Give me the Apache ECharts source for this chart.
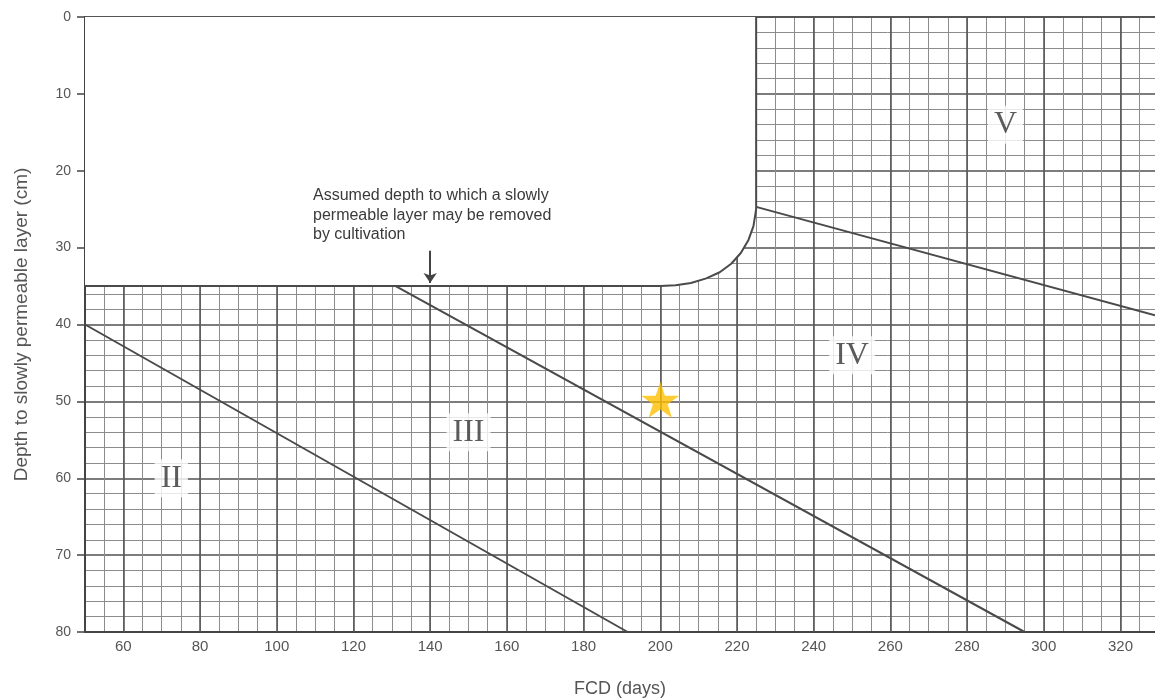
<!DOCTYPE html>
<html>
<head>
<meta charset="utf-8">
<script src="https://cdn.jsdelivr.net/npm/echarts@6/dist/echarts.min.js"></script>
<style>html,body{margin:0;padding:0;background:#fff;}#c{width:1155px;height:699px;}</style>
</head>
<body>
<div id="c"></div>
<script>
// ---- data ----
const xMajorLines = [60, 80, 100, 120, 140, 160, 180, 200, 220, 240, 260, 280, 300, 320];
const xTickLabels = [60, 80, 100, 120, 140, 160, 180, 200, 220, 240, 260, 280, 300, 320];
const yTickLabels = [0, 10, 20, 30, 40, 50, 60, 70, 80];
const cultivationLimit = [[50, 35], [200, 35], [204, 34.9], [208, 34.6], [212, 34.0], [215.5, 33.2], [218.5, 32.1], [221, 30.7], [223, 29.0], [224.3, 27.2], [225, 25], [225, 0]];
const boundaryII_III = [[50, 40], [191.5, 80]];
const boundaryIII_IV = [[131, 35], [295, 80]];
const boundaryIV_V = [[225, 24.7], [329, 38.8]];
const zoneNames = ['II', 'III', 'IV', 'V'];
const zoneFCD = [72.5, 150, 250, 290];
const zoneDepth = [60, 54, 44, 14];
const starPoint = [[200, 49.8]];
const arrowFrom = [140, 30.4];
const arrowTo = [140, 34.6];
const noteLines = ['Assumed depth to which a slowly', 'permeable layer may be removed', 'by cultivation'];

const chart = echarts.init(document.getElementById('c'));
const font = 'Liberation Sans, Arial, sans-serif';
const txt = '#555';
const boundStyle = { color: '#4a4a4a', width: 2 };

const starPath = 'path://M50,0 L61.8,35.1 L98.1,35.1 L68.8,56.8 L79.4,91 L50,70 L20.6,91 L31.2,56.8 L1.9,35.1 L38.2,35.1 Z';

chart.setOption({
  animation: false,
  backgroundColor: '#fff',
  grid: { left: 85, right: 0, top: 17, bottom: 67, containLabel: false, outerBoundsMode: 'none' },
  xAxis: [{
    type: 'value', min: 50, max: 329, interval: 5,
    name: 'FCD (days)', nameLocation: 'middle', nameGap: 48,
    nameTextStyle: { color: txt, fontSize: 18, fontFamily: font },
    axisLine: { show: true, onZero: false, lineStyle: { color: '#444', width: 2 } },
    axisTick: { show: false },
    axisLabel: {
      interval: 0, margin: 7, color: txt, fontSize: 15, fontFamily: font,
      formatter: v => xTickLabels.indexOf(v) >= 0 ? String(v) : ''
    },
    splitLine: { show: true, lineStyle: { color: '#8c8c8c', width: 1 } }
  }, {
    type: 'value', min: 50, max: 329, position: 'top',
    axisLine: { show: true, onZero: false, lineStyle: { color: '#555', width: 2 } },
    axisTick: { show: false }, axisLabel: { show: false }, splitLine: { show: false }
  }],
  yAxis: {
    type: 'value', min: 0, max: 80, interval: 10, inverse: true,
    name: 'Depth to slowly permeable layer (cm)', nameLocation: 'middle', nameGap: 54,
    nameTextStyle: { color: txt, fontSize: 19, fontFamily: font },
    axisLine: { show: true, onZero: false, lineStyle: { color: '#444', width: 2 } },
    axisTick: { show: true, length: 8, lineStyle: { color: '#444', width: 1.5 } },
    axisLabel: { color: txt, fontSize: 14, fontFamily: font, margin: 14,
      formatter: v => yTickLabels.indexOf(v) >= 0 ? String(v) : '' },
    splitLine: { show: true, lineStyle: { color: '#505050', width: 1.5 } },
    minorTick: { show: false, splitNumber: 5 },
    minorSplitLine: { show: true, lineStyle: { color: '#8c8c8c', width: 1 } }
  },
  graphic: [{
    type: 'text', left: 313, top: 186, z: 100,
    style: { text: noteLines.join('\n'), fill: '#3a3a3a', font: '16px ' + font, lineHeight: 19.5 }
  }],
  series: [
    {
      name: 'major', type: 'line', data: [], z: 1, silent: true,
      markLine: {
        z: 1, silent: true, symbol: 'none', animation: false,
        label: { show: false },
        lineStyle: { color: '#505050', width: 1.5, type: 'solid' },
        data: xMajorLines.map(v => ({ xAxis: v }))
      }
    },
    {
      name: 'ticks', type: 'line', data: [], z: 1, silent: true,
      markLine: {
        z: 1, silent: true, symbol: 'none', animation: false,
        label: { show: false },
        lineStyle: { color: '#505050', width: 1.5, type: 'solid' },
        data: xTickLabels.map(v => [{ coord: [v, 80] }, { coord: [v, 80.7] }])
      }
    },
    {
      name: 'cultivation', type: 'line', data: cultivationLimit, z: 3, silent: true,
      showSymbol: false, symbol: 'none',
      lineStyle: boundStyle,
      areaStyle: { color: '#fff', opacity: 1, origin: 'start' }
    },
    { name: 'b1', type: 'line', data: boundaryII_III, z: 4, symbol: 'none', lineStyle: boundStyle },
    { name: 'b2', type: 'line', data: boundaryIII_IV, z: 4, symbol: 'none', lineStyle: boundStyle },
    { name: 'b3', type: 'line', data: boundaryIV_V, z: 4, symbol: 'none', lineStyle: boundStyle },
    {
      name: 'arrow', type: 'line', data: [], z: 5,
      markLine: {
        z: 6, silent: true, symbol: ['none', 'arrow'], symbolSize: 10,
        label: { show: false },
        lineStyle: { color: '#444', width: 2, type: 'solid' },
        data: [[{ coord: arrowFrom }, { coord: arrowTo }]]
      }
    },
    {
      name: 'zones', type: 'scatter', z: 6, symbolSize: 0,
      data: zoneNames.map((n, i) => ({ name: n, value: [zoneFCD[i], zoneDepth[i]] })),
      label: {
        show: true, position: 'inside', formatter: p => p.name,
        fontFamily: 'Liberation Serif, DejaVu Serif, serif', fontSize: 32, color: '#333',
        backgroundColor: '#fff', padding: [3, 6]
      }
    },
    {
      name: 'star', type: 'scatter', z: 7, symbol: starPath, symbolSize: [38, 36],
      itemStyle: { color: '#FFC000' }, data: starPoint
    }
  ]
});
</script>
</body>
</html>
